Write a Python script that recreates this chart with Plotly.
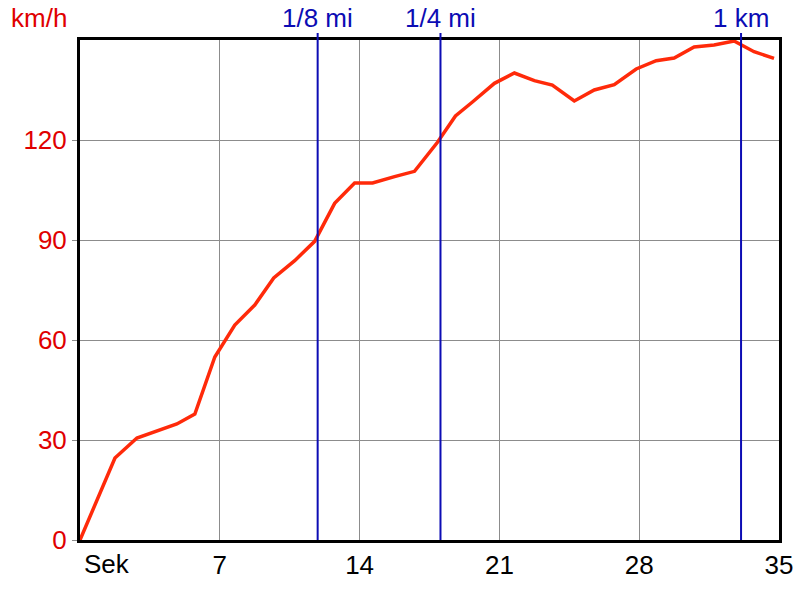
import plotly.graph_objects as go

# Data
time_s = [0, 1.75, 2.85, 3.85, 4.85, 5.75, 6.75, 7.75, 8.75, 9.7, 10.75, 11.75,
          12.75, 13.75, 14.65, 15.75, 16.75, 17.9, 18.8, 19.65, 20.75, 21.75,
          22.75, 23.65, 24.75, 25.75, 26.75, 27.85, 28.85, 29.75, 30.75, 31.75,
          32.75, 33.75, 34.75]
speed_kmh = [0, 24.6, 30.6, 32.7, 34.8, 37.8, 54.9, 64.5, 70.5, 78.6, 83.8, 89.6,
             101.0, 107.1, 107.1, 109.0, 110.6, 119.3, 127.2, 131.4, 137.0, 140.1,
             137.8, 136.5, 131.7, 135.0, 136.6, 141.3, 143.8, 144.6, 147.9, 148.5,
             149.7, 146.5, 144.5]

marker_x = [11.9, 18.05, 33.1]
marker_labels = ["1/8 mi", "1/4 mi", "1 km"]

x_ticks = [0, 7, 14, 21, 28, 35]
x_tick_labels = ["", "7", "14", "21", "28", "35"]
y_ticks = [0, 30, 60, 90, 120]

blue = "#0c0cb4"
red = "#ff2a0a"
font_family = "Liberation Sans, Arial, sans-serif"

fig = go.Figure()
fig.add_trace(go.Scatter(x=time_s, y=speed_kmh, mode="lines",
                         line=dict(color=red, width=3.5), hoverinfo="skip",
                         showlegend=False))

for mx, lab in zip(marker_x, marker_labels):
    fig.add_shape(type="line", x0=mx, x1=mx, xref="x", y0=0, y1=1.014,
                  yref="paper", line=dict(color=blue, width=2), layer="above")
    fig.add_annotation(x=mx, xref="x", y=1.0, yref="paper", yanchor="bottom",
                       yshift=5, text=lab, showarrow=False,
                       font=dict(color=blue, size=26, family=font_family))

fig.add_annotation(x=0, xref="paper", xanchor="left", xshift=2, y=0, yref="paper",
                   yanchor="top", yshift=-7, text="Sek", showarrow=False,
                   font=dict(color="black", size=26, family=font_family))
fig.add_annotation(x=0, xref="paper", xanchor="right", xshift=-11, y=1.0,
                   yref="paper", yanchor="bottom", yshift=5, text="km/h",
                   showarrow=False,
                   font=dict(color="#e00000", size=26, family=font_family))

fig.update_xaxes(range=[0, 35], tickvals=x_ticks, ticktext=x_tick_labels,
                 showgrid=True, gridcolor="#8c8c8c", gridwidth=1,
                 showline=True, linecolor="black", linewidth=3, mirror=True,
                 ticks="",
                 tickfont=dict(color="black", size=26, family=font_family),
                 zeroline=False, fixedrange=True, automargin=False)
fig.update_yaxes(range=[0, 150], tickvals=y_ticks,
                 showgrid=True, gridcolor="#8c8c8c", gridwidth=1,
                 showline=True, linecolor="black", linewidth=3, mirror=True,
                 ticks="outside", ticklen=5, tickcolor="#8c8c8c",
                 tickfont=dict(color="#e00000", size=26, family=font_family),
                 zeroline=False, fixedrange=True, automargin=False)

fig.update_layout(width=800, height=600,
                  margin=dict(l=80, r=21, t=40, b=60),
                  plot_bgcolor="white", paper_bgcolor="white",
                  font=dict(family=font_family))

fig.write_html("out.html", config={"displayModeBar": False},
               post_script="document.body.style.margin='0px';document.body.style.overflow='hidden';")
